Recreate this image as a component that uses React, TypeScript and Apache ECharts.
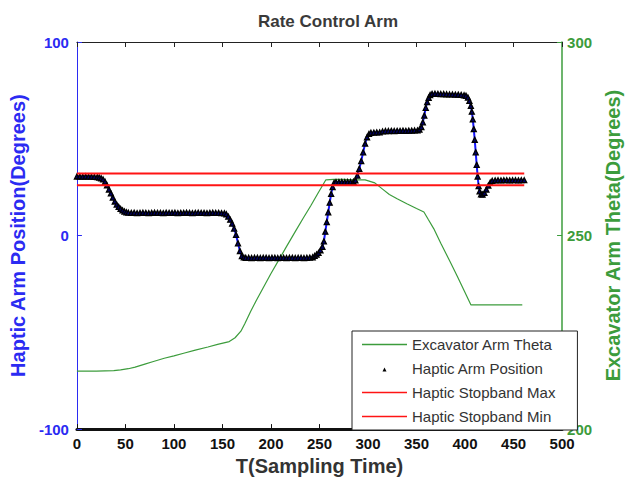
import React, { useEffect, useRef } from "react";
import * as echarts from "echarts";

const titleText = "Rate Control Arm";
const xAxisName = "T(Sampling Time)";
const leftAxisName = "Haptic Arm Position(Degrees)";
const rightAxisName = "Excavator Arm Theta(Degrees)";
const seriesNames = [
  "Excavator Arm Theta",
  "Haptic Arm Position",
  "Haptic Stopband Max",
  "Haptic Stopband Min",
];

const hapticTime = [
  0, 3, 6, 9, 12, 15, 18, 21,
  23, 25, 27, 29, 31, 33, 35, 37, 39, 41, 43, 45, 47, 49, 51, 53,
  56, 59, 62, 65, 68, 71, 74, 77, 80, 83, 86,
  89, 92, 95, 98, 101, 104, 107, 110, 113, 116, 119,
  122, 125, 128, 131, 134, 137, 140, 143, 146, 149, 152,
  154, 156, 158, 160, 162, 164, 166, 168, 170, 172, 174,
  177, 180, 183, 186, 189, 192, 195, 198, 201, 204, 207,
  210, 213, 216, 219, 222, 225, 228, 231, 234, 237, 240,
  243, 245, 247, 249, 251, 253, 254.5, 256, 257.5, 259, 260.5, 262, 263.5, 265, 267,
  270, 273, 276, 279, 282, 285,
  287, 289, 291, 293, 295, 297, 299, 301, 303,
  306, 309, 312, 315, 318, 321, 324, 327, 330, 333, 336, 339, 342, 345, 348, 351,
  353, 355, 356.5, 358, 359.5, 361, 362.5, 364, 366,
  369, 372, 375, 378, 381, 384, 387, 390, 393, 396, 399,
  401, 403, 404.5, 406, 407, 408, 409, 410, 411, 412, 413, 414, 415, 416.5, 418, 420, 422, 424, 426, 428,
  431, 434, 437, 440, 443, 446, 449, 452, 455, 458, 461,
];
const hapticPos = [
  30.5, 30.5, 30.4, 30.5, 30.4, 30.4, 30.3, 30.2,
  30.0, 29.6, 29.0, 27.8, 26.0, 23.8, 21.8, 19.6, 17.6, 16.0, 14.8, 13.8, 13.0, 12.4, 12.0, 11.8,
  11.7, 11.8, 11.6, 11.7, 11.8, 11.7, 11.6, 11.7, 11.8, 11.7, 11.7,
  11.6, 11.8, 11.7, 11.7, 11.8, 11.6, 11.7, 11.7, 11.8, 11.7, 11.6,
  11.7, 11.8, 11.7, 11.7, 11.6, 11.7, 11.8, 11.7, 11.7, 11.6, 11.5,
  11.0, 9.8, 8.2, 6.2, 3.6, 0.4, -4.0, -8.0, -10.6, -11.3, -11.5,
  -11.5, -11.6, -11.5, -11.5, -11.6, -11.5, -11.5, -11.6, -11.5, -11.5, -11.6,
  -11.5, -11.5, -11.6, -11.5, -11.5, -11.6, -11.5, -11.5, -11.6, -11.5, -11.4,
  -11.2, -10.5, -9.8, -9.0, -7.6, -5.8, -3.0, 2.0, 7.0, 12.0, 17.0, 21.5, 25.0, 27.2, 27.6,
  27.6, 27.7, 27.6, 27.7, 27.7, 27.8,
  28.5, 31.0, 34.5, 38.5, 43.0, 47.5, 50.8, 52.5, 53.1,
  53.2, 53.3, 53.3, 53.8, 54.0, 54.0, 54.1, 54.0, 54.1, 54.1, 54.2, 54.1, 54.2, 54.2, 54.3, 54.3,
  54.8, 56.0, 58.5, 62.0, 66.0, 69.0, 71.2, 72.6, 73.2,
  73.3, 73.2, 73.1, 73.1, 73.0, 72.9, 72.9, 72.8, 72.8, 72.7, 72.5,
  72.2, 71.3, 69.6, 67.0, 64.0, 60.0, 55.0, 49.5, 43.0, 36.5, 30.5, 25.5, 22.8, 21.3, 21.2, 22.0, 23.8, 25.8, 27.4, 28.3,
  28.5, 28.6, 28.5, 28.6, 28.6, 28.5, 28.6, 28.6, 28.5, 28.6, 28.6,
];

const thetaTime = [
  0, 20, 38, 45, 53, 60, 70, 78, 90, 100, 110, 122, 135, 145, 157, 163, 169, 173,
  179, 185, 192, 200, 209, 217, 225, 233, 241, 249, 256.6, 265, 275, 285, 297,
  302, 307, 315, 322, 330, 340, 350, 357.6, 362, 367.7, 375, 384.5, 392, 399, 406,
  420, 440, 459,
];
const thetaDeg = [
  215.0, 215.0, 215.1, 215.3, 215.6, 216.0, 216.8, 217.4, 218.3, 218.9, 219.6, 220.4, 221.2, 221.9, 222.6, 223.6, 225.3, 227.2,
  230.4, 233.3, 236.5, 240.2, 244.1, 247.6, 251.0, 254.4, 257.7, 261.2, 264.4, 264.5, 264.5, 264.4, 264.4,
  264.0, 263.6, 262.0, 260.6, 259.5, 258.2, 257.0, 256.1, 254.2, 251.8, 248.0, 243.3, 239.5, 235.8, 232.1,
  232.1, 232.1, 232.1,
];

const stopbandTime = [0, 461];
const stopbandMax = [32, 32];
const stopbandMin = [26, 26];

const FONT = '"Liberation Sans", Arial, sans-serif';
const BLUE = "#2b2bf2";
const GREEN = "#3c9c3c";
const RED = "#ff1414";
const LINE_ICON = "path://M0,0H45V1.6H0Z";
const TRI_ICON = "path://M0,0M45,12M20.5,9L22.5,5L24.5,9Z";

export default function App() {
  const ref = useRef<HTMLDivElement>(null);
  useEffect(() => {
    if (!ref.current) return;
    const chart = echarts.init(ref.current, null, { renderer: "svg" });
    const zip = (a: number[], b: number[]) => a.map((t, i) => [t, b[i]]);
    chart.setOption({
      animation: false,
      backgroundColor: "#fff",
      textStyle: { fontFamily: FONT },
      title: {
        text: titleText,
        left: 323,
        textAlign: "center",
        top: 8,
        textStyle: { fontSize: 17, fontWeight: "bold", color: "#3a3a3a", fontFamily: FONT },
      },
      grid: { left: 76, right: 60, top: 42, bottom: 49 },
      legend: {
        orient: "vertical",
        left: 352,
        top: 331,
        padding: [6, 22, 6, 10],
        itemGap: 9,
        itemWidth: 45,
        itemHeight: 12,
        backgroundColor: "#fff",
        borderColor: "#222",
        borderWidth: 1,
        borderRadius: 0,
        selectedMode: false,
        textStyle: { fontSize: 15, color: "#333", fontFamily: FONT },
        data: [
          { name: seriesNames[0], icon: LINE_ICON },
          { name: seriesNames[1], icon: TRI_ICON, itemStyle: { color: "#000", borderWidth: 0 } },
          { name: seriesNames[2], icon: LINE_ICON },
          { name: seriesNames[3], icon: LINE_ICON },
        ],
      },
      xAxis: [
        {
          type: "value",
          min: 0,
          max: 500,
          interval: 50,
          position: "bottom",
          axisLine: { onZero: false, lineStyle: { color: "#111", width: 3 } },
          axisTick: { show: true, inside: true, length: 5, lineStyle: { color: "#111", width: 1 } },
          axisLabel: { color: "#111", fontWeight: "bold", fontSize: 15, margin: 7, fontFamily: FONT },
          splitLine: { show: false },
          name: xAxisName,
          nameLocation: "middle",
          nameGap: 20,
          nameTextStyle: { fontSize: 20, fontWeight: "bold", color: "#333", fontFamily: FONT },
        },
        {
          type: "value",
          min: 0,
          max: 500,
          interval: 50,
          position: "top",
          axisLine: { onZero: false, lineStyle: { color: "#222", width: 1 } },
          axisTick: { show: true, inside: true, length: 5, lineStyle: { color: "#222" } },
          axisLabel: { show: false },
          splitLine: { show: false },
        },
      ],
      yAxis: [
        {
          type: "value",
          min: -100,
          max: 100,
          interval: 100,
          position: "left",
          axisLine: { show: true, onZero: false, lineStyle: { color: BLUE, width: 1 } },
          axisTick: { show: true, inside: true, length: 5, lineStyle: { color: BLUE } },
          axisLabel: { color: BLUE, fontWeight: "bold", fontSize: 15, margin: 8, fontFamily: FONT },
          splitLine: { show: false },
          name: leftAxisName,
          nameLocation: "middle",
          nameRotate: 90,
          nameGap: 44,
          nameTextStyle: { fontSize: 20, fontWeight: "bold", color: BLUE, fontFamily: FONT },
        },
        {
          type: "value",
          min: 200,
          max: 300,
          interval: 50,
          position: "right",
          axisLine: { show: true, onZero: false, lineStyle: { color: GREEN, width: 1.5 } },
          axisTick: { show: true, inside: true, length: 5, lineStyle: { color: GREEN } },
          axisLabel: { color: GREEN, fontWeight: "bold", fontSize: 15, margin: 5, fontFamily: FONT },
          splitLine: { show: false },
          name: rightAxisName,
          nameLocation: "middle",
          nameRotate: 90,
          nameGap: 28,
          nameTextStyle: { fontSize: 20, fontWeight: "bold", color: GREEN, fontFamily: FONT },
        },
      ],
      series: [
        {
          name: seriesNames[0],
          type: "line",
          xAxisIndex: 0,
          yAxisIndex: 1,
          data: zip(thetaTime, thetaDeg),
          showSymbol: false,
          lineStyle: { color: GREEN, width: 1.2 },
          itemStyle: { color: GREEN },
          z: 2,
        },
        {
          name: seriesNames[1],
          type: "line",
          xAxisIndex: 0,
          yAxisIndex: 0,
          data: zip(hapticTime, hapticPos),
          symbol: "triangle",
          symbolSize: 5,
          showSymbol: true,
          showAllSymbol: true,
          lineStyle: { color: "#1515ff", width: 2 },
          itemStyle: { color: "#00006a", borderColor: "#000", borderWidth: 1.3 },
          z: 3,
        },
        {
          name: seriesNames[2],
          type: "line",
          yAxisIndex: 0,
          data: zip(stopbandTime, stopbandMax),
          showSymbol: false,
          lineStyle: { color: RED, width: 2 },
          itemStyle: { color: RED },
          z: 4,
        },
        {
          name: seriesNames[3],
          type: "line",
          yAxisIndex: 0,
          data: zip(stopbandTime, stopbandMin),
          showSymbol: false,
          lineStyle: { color: RED, width: 2 },
          itemStyle: { color: RED },
          z: 4,
        },
      ],
    });
    return () => chart.dispose();
  }, []);
  return (
    <div
      ref={ref}
      style={{ position: "fixed", left: 0, top: 0, width: 631, height: 481, background: "#fff" }}
    />
  );
}
